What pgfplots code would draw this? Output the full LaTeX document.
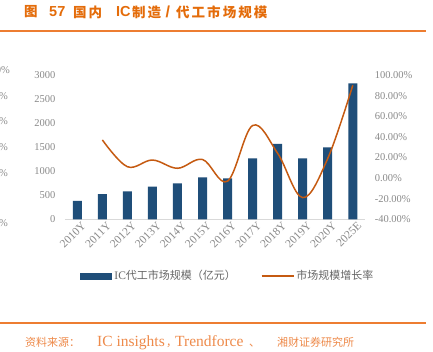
\documentclass[border=0pt]{standalone}
\usepackage{pgfplots}
\pgfplotsset{compat=1.18}
\usepackage{fontspec}
\setmainfont{Liberation Serif}
\setsansfont{Liberation Sans}
\newfontfamily\cjk{Noto Sans CJK SC}
\newfontfamily\cjkt{Noto Sans CJK SC}[LetterSpace=15]
\definecolor{barblue}{HTML}{1F4E79}
\definecolor{lineor}{HTML}{C55A11}
\definecolor{titleor}{HTML}{E46C0A}
\definecolor{ruleor}{HTML}{ED7D31}
\definecolor{srcor}{HTML}{EE8A4A}
\definecolor{tickgray}{HTML}{8A8A8A}
\definecolor{leggray}{HTML}{666666}
\definecolor{axgray}{HTML}{D9D9D9}

\pgfplotstableread{
x val
0 385
1 525
2 582
3 678
4 748
5 873
6 852
7 1268
8 1566
9 1268
10 1497
11 2828
}\bars

\pgfplotstableread{
x g
1 37
2 11
3 17.5
4 9.5
5 18
6 -3
7 51
8 24
9 -19
10 19
11 90
}\growth

\begin{document}
\begin{tikzpicture}[x=1pt,y=1pt]
\path[use as bounding box, fill=white] (0pt,0pt) rectangle (433pt,352pt);
\clip (0pt,0pt) rectangle (433pt,352pt);
% title
\begin{scope}[every node/.style={anchor=west, text=titleor, inner sep=0pt}]
\node[font=\cjkt\bfseries\fontsize{13.5}{13.5}\selectfont] at (24pt,340pt) {图};
\node[font=\sffamily\bfseries\fontsize{14.5}{14.5}\selectfont] at (49pt,340pt) {57};
\node[font=\cjkt\bfseries\fontsize{13.5}{13.5}\selectfont] at (73pt,340pt) {国内};
\node[font=\sffamily\bfseries\fontsize{14.5}{14.5}\selectfont] at (116pt,340pt) {IC};
\node[font=\cjkt\bfseries\fontsize{13.5}{13.5}\selectfont] at (132pt,340pt) {制造};
\node[font=\sffamily\bfseries\fontsize{16}{16}\selectfont] at (165.5pt,340pt) {/};
\node[font=\cjkt\bfseries\fontsize{13.5}{13.5}\selectfont] at (176pt,340pt) {代工市场规模};
\end{scope}
\fill[ruleor] (0pt,319.5pt) rectangle (426pt,321.5pt);
\fill[ruleor] (0pt,28pt) rectangle (426pt,30pt);
% source
\begin{scope}[every node/.style={anchor=base west, text=srcor, inner sep=0pt}]
\node[font=\cjk\fontsize{11}{11}\selectfont] at (25pt,5pt) {资料来源：};
\node[font=\fontsize{15.5}{15.5}\selectfont] at (97pt,5pt) {IC insights};
\node[font=\cjk\fontsize{11}{11}\selectfont] at (166pt,5pt) {，};
\node[font=\fontsize{15.5}{15.5}\selectfont] at (175pt,5pt) {Trendforce};
\node[font=\cjk\fontsize{11}{11}\selectfont] at (249pt,5pt) {、};
\node[font=\cjk\fontsize{11}{11}\selectfont] at (277pt,5pt) {湘财证券研究所};
\end{scope}
% remnants of neighbouring chart
\begin{scope}[every node/.style={anchor=east, text=tickgray, font=\fontsize{10.5}{10.5}\selectfont, inner sep=0pt}]
\node at (10pt,282pt) {0.00\%};
\node at (8pt,256pt) {0\%};
\node at (8pt,231pt) {0\%};
\node at (8pt,205pt) {0\%};
\node at (8pt,179pt) {0\%};
\node at (8pt,129pt) {0\%};
\end{scope}

\begin{axis}[
  at={(64.8pt,132.7pt)}, anchor=south west, scale only axis,
  width=300.5pt, height=144.3pt,
  xmin=-0.5, xmax=11.5, ymin=0, ymax=3000,
  axis y line*=left, axis x line*=bottom,
  y axis line style={draw=none},
  x axis line style={draw=axgray, line width=0.8pt},
  major tick length=0pt,
  ytick={0,500,...,3000},
  xtick={0,...,11},
  xticklabels={2010Y,2011Y,2012Y,2013Y,2014Y,2015Y,2016Y,2017Y,2018Y,2019Y,2020Y,2025E},
  tick label style={text=tickgray, font=\fontsize{10.5}{10.5}\selectfont},
  yticklabel style={xshift=-6pt},
  xticklabel style={rotate=45, anchor=north east, inner sep=1pt, xshift=2.5pt, yshift=-3pt,
    font=\fontsize{11.5}{11.5}\selectfont},
  /pgf/number format/assume math mode=true,
  scaled y ticks=false,
  y tick label style={/pgf/number format/.cd, set thousands separator={}},
  legend style={draw=none, at={(0.543,-0.393)}, anchor=center, legend columns=2,
    font=\cjk\fontsize{11}{11}\selectfont, text=leggray,
    /tikz/every even column/.append style={column sep=23pt},
    nodes={inner sep=2pt}},
  clip=false,
]
\addplot[ybar, bar width=9pt, fill=barblue, draw=none,
  legend image code/.code={\fill[barblue] (0pt,-3.5pt) rectangle (32pt,3.5pt);}]
  table[x=x, y=val] {\bars};
\addlegendentry{{\rmfamily\fontsize{11.5}{11.5}\selectfont IC}代工市场规模（亿元）}
\addlegendimage{legend image code/.code={\draw[lineor, line width=1.5pt] (0pt,0pt) -- (32pt,0pt);}}
\addlegendentry{市场规模增长率}
\end{axis}

\begin{axis}[
  at={(64.8pt,132.7pt)}, anchor=south west, scale only axis,
  width=300.5pt, height=144.3pt,
  xmin=-0.5, xmax=11.5, ymin=-40, ymax=100,
  axis y line*=right, axis x line=none,
  y axis line style={draw=none},
  major tick length=0pt,
  ytick={-40,-20,...,100},
  yticklabels={-40.00\%,-20.00\%,0.00\%,20.00\%,40.00\%,60.00\%,80.00\%,100.00\%},
  tick label style={text=tickgray, font=\fontsize{10.5}{10.5}\selectfont},
  yticklabel style={xshift=6pt},
  clip=false,
]
\addplot[lineor, line width=1.5pt, smooth, tension=0.6] table[x=x, y=g] {\growth};
\end{axis}
\end{tikzpicture}
\end{document}
